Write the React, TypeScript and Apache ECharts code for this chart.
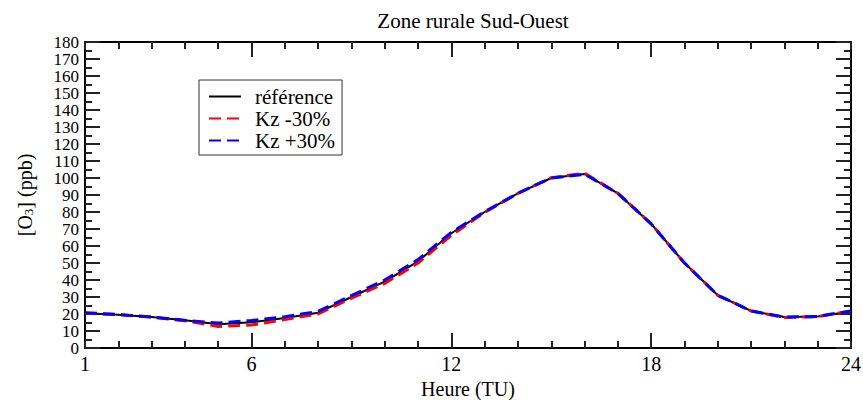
import React, { useEffect, useRef } from "react";
import * as echarts from "echarts";

const hours = [1, 2, 3, 4, 5, 6, 7, 8, 9, 10, 11, 12, 13, 14, 15, 16, 17, 18, 19, 20, 21, 22, 23, 24];
const reference = [20.5, 19.6, 18.2, 16.3, 14.0, 15.1, 17.7, 20.8, 30.0, 39.0, 51.0, 67.5, 80.0, 91.0, 100.0, 102.4, 91.0, 73.0, 50.0, 31.0, 21.8, 18.2, 18.5, 21.5];
const kzMinus30 = [20.5, 19.6, 18.2, 16.0, 12.7, 13.5, 16.8, 20.0, 29.3, 38.0, 50.0, 66.3, 79.8, 91.0, 100.2, 102.8, 91.0, 73.0, 50.0, 31.0, 21.8, 18.0, 18.4, 21.8];
const kzPlus30 = [20.8, 19.7, 18.2, 16.3, 14.7, 16.2, 18.4, 21.5, 30.8, 40.0, 52.0, 68.0, 80.2, 91.0, 100.0, 102.2, 91.0, 73.0, 50.0, 31.0, 21.8, 18.2, 18.6, 21.8];
const xLabelValues = [1, 6, 12, 18, 24];
const xMajorTicks = [6, 12, 18];
const yLabelsEven = [0, 20, 40, 60, 80, 100, 120, 140, 160, 180];
const yLabelsOdd = [10, 30, 50, 70, 90, 110, 130, 150, 170];

const FONT = "'Liberation Serif', 'Times New Roman', serif";

export default function App() {
  const ref = useRef<HTMLDivElement>(null);
  useEffect(() => {
    if (!ref.current) return;
    const chart = echarts.init(ref.current, null, { renderer: "svg" });
    const pair = (ys: number[]) => hours.map((h, i) => [h, ys[i]]);
    const axisLineStyle = { color: "#000", width: 2 };
    const tickStyle = { color: "#222", width: 2 };
    const yLabelStyle = {
      fontFamily: FONT,
      fontSize: 17,
      color: "#000",
      margin: 6,
      lineHeight: 16,
      showMinLabel: true,
      showMaxLabel: true,
    };
    const baseX = {
      type: "value" as const,
      min: 1,
      max: 24,
      splitLine: { show: false },
    };
    const baseY = {
      type: "value" as const,
      min: 0,
      max: 180,
      interval: 10,
      splitLine: { show: false },
      axisLine: { show: true, onZero: false, lineStyle: axisLineStyle },
      axisTick: { show: true, inside: true, length: 15, lineStyle: tickStyle },
      minorTick: { show: true, splitNumber: 2, length: 7, lineStyle: tickStyle },
    };
    const gridBox = { left: 85, right: 12, top: 42, bottom: 52, containLabel: false, outerBoundsMode: "none" };
    chart.setOption({
      animation: false,
      backgroundColor: "#fff",
      title: {
        text: "Zone rurale Sud-Ouest",
        left: 468,
        top: 5,
        textAlign: "center",
        textStyle: { fontFamily: FONT, fontSize: 21, fontWeight: "normal", color: "#000" },
      },
      legend: {
        left: 199,
        top: 80,
        orient: "vertical",
        borderColor: "#333",
        borderWidth: 1,
        padding: [6, 7, 4, 9],
        itemWidth: 32,
        itemHeight: 14,
        itemGap: 1,
        itemStyle: { opacity: 0 },
        textStyle: { fontFamily: FONT, fontSize: 21, color: "#000", lineHeight: 21, padding: [0, 0, 0, 9] },
        data: ["référence", "Kz -30%", "Kz +30%"],
      },
      grid: [{ ...gridBox }, { ...gridBox }],
      xAxis: [
        {
          ...baseX,
          gridIndex: 0,
          position: "bottom",
          interval: 1,
          name: "Heure (TU)",
          nameLocation: "middle",
          nameGap: 29,
          nameTextStyle: { fontFamily: FONT, fontSize: 20, color: "#000" },
          axisLine: { show: true, onZero: false, lineStyle: axisLineStyle },
          axisTick: { show: true, inside: true, length: 7, lineStyle: tickStyle },
          axisLabel: {
            customValues: xLabelValues,
            fontFamily: FONT,
            fontSize: 20,
            color: "#000",
            margin: 6,
          },
        },
        {
          ...baseX,
          gridIndex: 0,
          position: "top",
          interval: 1,
          axisLine: { show: true, onZero: false, lineStyle: axisLineStyle },
          axisTick: { show: true, inside: true, length: 7, lineStyle: tickStyle },
          axisLabel: { show: false },
        },
        {
          ...baseX,
          gridIndex: 1,
          position: "bottom",
          axisLine: { show: false, onZero: false },
          axisTick: { show: true, inside: true, length: 15, customValues: xMajorTicks, lineStyle: tickStyle },
          axisLabel: { show: false },
        },
        {
          ...baseX,
          gridIndex: 1,
          position: "top",
          axisLine: { show: false, onZero: false },
          axisTick: { show: true, inside: true, length: 15, customValues: xMajorTicks, lineStyle: tickStyle },
          axisLabel: { show: false },
        },
      ],
      yAxis: [
        {
          ...baseY,
          gridIndex: 0,
          position: "left",
          name: "{a|[O}{s|3}{a|] (ppb)}",
          nameLocation: "middle",
          nameGap: 50,
          nameRotate: 90,
          nameTextStyle: {
            rich: {
              a: { fontFamily: FONT, fontSize: 20, color: "#000" },
              s: { fontFamily: FONT, fontSize: 13, color: "#000", verticalAlign: "bottom", padding: [8, 0, 0, 0] },
            },
          },
          axisLabel: { ...yLabelStyle, customValues: yLabelsEven },
        },
        {
          ...baseY,
          gridIndex: 0,
          position: "right",
          axisLabel: { show: false },
        },
        {
          ...baseY,
          gridIndex: 1,
          position: "left",
          axisLine: { show: false, onZero: false },
          axisTick: { show: false },
          minorTick: { show: false },
          axisLabel: { ...yLabelStyle, customValues: yLabelsOdd },
        },
      ],
      series: [
        {
          name: "référence",
          type: "line",
          xAxisIndex: 0,
          yAxisIndex: 0,
          data: pair(reference),
          symbol: "none",
          color: "#000",
          lineStyle: { color: "#000", width: 2 },
          z: 2,
        },
        {
          name: "Kz -30%",
          type: "line",
          xAxisIndex: 0,
          yAxisIndex: 0,
          data: pair(kzMinus30),
          symbol: "none",
          color: "#ff0000",
          lineStyle: { color: "#ff0000", width: 3, type: [12, 6] },
          z: 3,
        },
        {
          name: "Kz +30%",
          type: "line",
          xAxisIndex: 0,
          yAxisIndex: 0,
          data: pair(kzPlus30),
          symbol: "none",
          color: "#0000ff",
          lineStyle: { color: "#0000ff", width: 3, type: [12, 6] },
          z: 4,
        },
      ],
    });
    return () => chart.dispose();
  }, []);
  return <div ref={ref} style={{ width: 863, height: 400, position: "absolute", left: 0, top: 0 }} />;
}
